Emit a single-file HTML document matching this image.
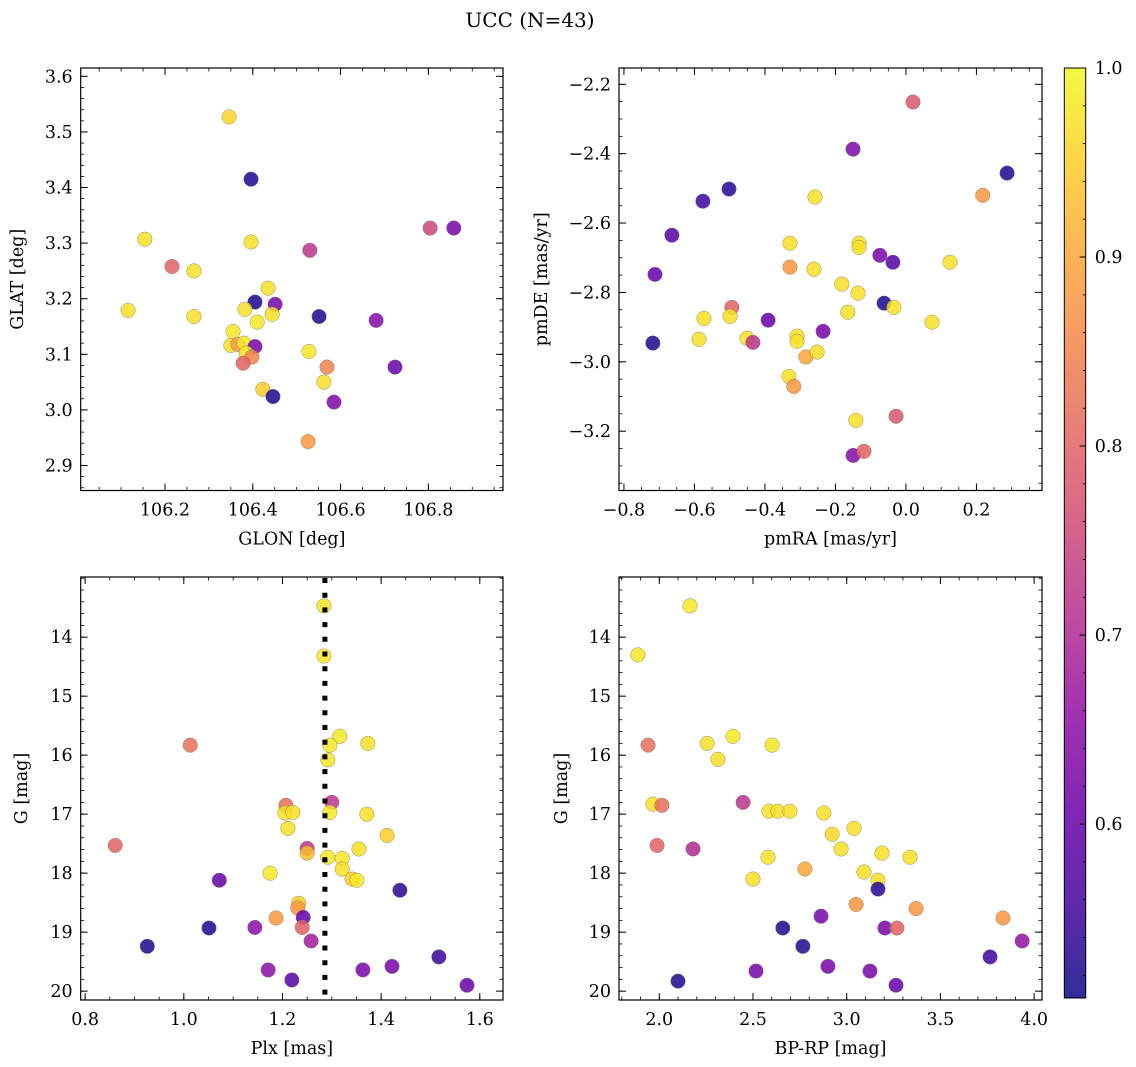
<!DOCTYPE html>
<html><head><meta charset="utf-8">
<style>
html,body{margin:0;padding:0;background:#fff;}
svg{display:block;font-family:"DejaVu Serif","Liberation Serif",serif;}
</style></head>
<body>
<svg id="fig" width="1136" height="1067" viewBox="0 0 1136 1067" xmlns="http://www.w3.org/2000/svg">
<text x="530" y="27" font-size="20" text-anchor="middle">UCC (N=43)</text>
</svg>
<script>
// ---- Panel 1: GLON / GLAT ----
const glonP1 = [106.346,106.396,106.154,106.216,106.266,106.396,106.530,106.804,106.858,106.116,106.266,106.681,106.724,106.526,106.435,106.405,106.451,106.382,106.444,106.410,106.551,106.355,106.350,106.366,106.380,106.405,106.385,106.398,106.378,106.528,106.569,106.562,106.423,106.446,106.585];
const glatP1 = [3.527,3.415,3.307,3.258,3.250,3.302,3.287,3.327,3.327,3.179,3.168,3.161,3.077,2.943,3.219,3.194,3.190,3.181,3.172,3.158,3.168,3.141,3.116,3.118,3.120,3.114,3.102,3.095,3.084,3.105,3.077,3.050,3.037,3.024,3.014];
const probP1 = [0.96,0.52,0.97,0.80,0.97,0.97,0.72,0.75,0.62,0.97,0.97,0.64,0.60,0.88,0.97,0.52,0.62,0.97,0.97,0.98,0.52,0.98,0.97,0.88,0.98,0.62,0.98,0.85,0.80,0.98,0.85,0.97,0.95,0.52,0.63];
// ---- Panel 2: pmRA / pmDE ----
const pmraP2 = [0.020,-0.150,0.287,0.218,-0.502,-0.576,-0.664,-0.258,-0.329,-0.133,-0.133,-0.329,-0.261,-0.074,-0.037,0.125,-0.712,-0.182,-0.136,-0.062,-0.494,-0.573,-0.499,-0.391,-0.034,0.074,-0.165,-0.718,-0.587,-0.451,-0.434,-0.309,-0.309,-0.235,-0.284,-0.252,-0.332,-0.318,-0.142,-0.028,-0.150,-0.119];
const pmdeP2 = [-2.251,-2.387,-2.456,-2.520,-2.502,-2.537,-2.635,-2.525,-2.658,-2.658,-2.670,-2.727,-2.733,-2.693,-2.713,-2.713,-2.748,-2.776,-2.802,-2.831,-2.843,-2.875,-2.869,-2.880,-2.843,-2.886,-2.857,-2.946,-2.935,-2.932,-2.944,-2.926,-2.941,-2.912,-2.986,-2.972,-3.042,-3.071,-3.169,-3.157,-3.270,-3.258];
const probP2 = [0.78,0.63,0.52,0.88,0.53,0.55,0.58,0.97,0.97,0.97,0.97,0.88,0.97,0.62,0.58,0.97,0.60,0.97,0.97,0.52,0.80,0.97,0.97,0.60,0.97,0.97,0.97,0.52,0.97,0.97,0.72,0.97,0.97,0.62,0.90,0.97,0.97,0.88,0.97,0.78,0.64,0.80];
// ---- Panel 3: Plx / G ----
const plxP3 = [1.284,1.284,1.316,1.296,1.373,1.292,1.013,1.300,1.207,1.205,1.221,1.296,1.371,1.211,1.412,1.250,1.250,1.292,1.321,1.355,1.321,1.341,1.351,1.175,1.438,1.233,1.231,1.242,1.187,1.240,1.144,0.861,1.072,1.051,0.926,1.171,1.219,1.258,1.363,1.422,1.517,1.574];
const gP3 = [13.47,14.32,15.68,15.83,15.80,16.08,15.83,16.80,16.85,16.98,16.97,16.97,17.00,17.24,17.36,17.58,17.66,17.73,17.75,17.59,17.93,18.10,18.12,18.00,18.29,18.51,18.59,18.75,18.76,18.92,18.92,17.53,18.12,18.93,19.24,19.64,19.81,19.15,19.64,19.58,19.42,19.90];
const probP3 = [0.98,0.98,0.98,0.98,0.97,0.98,0.82,0.72,0.82,0.97,0.97,0.98,0.97,0.97,0.95,0.72,0.93,0.98,0.98,0.97,0.97,0.95,0.98,0.98,0.53,0.95,0.88,0.60,0.88,0.80,0.65,0.80,0.60,0.52,0.52,0.65,0.58,0.68,0.62,0.62,0.55,0.60];
const plxLine = 1.286;
// ---- Panel 4: BP-RP / G ----
const bprpP4 = [2.164,1.886,1.940,2.602,2.255,2.393,2.313,2.447,1.966,2.014,2.585,2.633,2.697,2.878,1.988,2.180,2.580,2.922,3.039,2.970,3.188,3.338,2.777,2.500,3.092,3.167,3.167,3.050,3.370,3.834,2.863,3.204,3.268,2.659,2.766,2.100,3.936,3.765,2.516,2.900,3.124,3.263];
const gP4 = [13.47,14.30,15.83,15.83,15.80,15.68,16.07,16.80,16.83,16.85,16.95,16.95,16.95,16.98,17.53,17.59,17.73,17.34,17.24,17.59,17.66,17.73,17.93,18.10,17.98,18.12,18.27,18.53,18.60,18.76,18.73,18.93,18.93,18.93,19.24,19.83,19.15,19.42,19.66,19.58,19.66,19.90];
const probP4 = [0.98,0.98,0.82,0.98,0.97,0.98,0.97,0.72,0.97,0.82,0.97,0.97,0.97,0.97,0.80,0.70,0.97,0.96,0.97,0.97,0.97,0.97,0.90,0.97,0.97,0.97,0.53,0.88,0.88,0.88,0.62,0.62,0.80,0.52,0.52,0.52,0.66,0.55,0.62,0.62,0.62,0.60];
// ---- tick labels ----
const p1XTicks = ["106.2","106.4","106.6","106.8"];
const p1YTicks = ["2.9","3.0","3.1","3.2","3.3","3.4","3.5","3.6"];
const p2XTicks = ["−0.8","−0.6","−0.4","−0.2","0.0","0.2"];
const p2YTicks = ["−3.2","−3.0","−2.8","−2.6","−2.4","−2.2"];
const p3XTicks = ["0.8","1.0","1.2","1.4","1.6"];
const gTicks = ["14","15","16","17","18","19","20"];
const p4XTicks = ["2.0","2.5","3.0","3.5","4.0"];
const cbTicks = ["0.6","0.7","0.8","0.9","1.0"];
const cbMin = 0.508, cbMax = 1.0;

const NS = "http://www.w3.org/2000/svg";
const svg = document.getElementById('fig');
function mk(tag, attrs, parent){ const e=document.createElementNS(NS,tag); for(const k in attrs) e.setAttribute(k,attrs[k]); (parent||svg).appendChild(e); return e; }
const stops=[[0,[13,8,135]],[0.1,[65,4,157]],[0.2,[106,0,168]],[0.3,[143,13,164]],[0.4,[177,42,144]],[0.5,[204,71,120]],[0.6,[225,100,98]],[0.7,[242,132,75]],[0.8,[252,166,54]],[0.9,[252,206,37]],[1,[240,249,33]]];
function plasma(t){ t=Math.max(0,Math.min(1,t)); for(let i=1;i<stops.length;i++){ if(t<=stops[i][0]){const a=stops[i-1],b=stops[i];const f=(t-a[0])/(b[0]-a[0]);return 'rgb('+a[1].map((v,j)=>Math.round(v+(b[1][j]-v)*f)).join(',')+')';}} return 'rgb(240,249,33)'; }
function cmap(v){ return plasma((v-cbMin)/(cbMax-cbMin)); }
const FS = 17.5;

function panel(cfg){
  const {name,L,R,T,B,xmin,xmax,ymin,ymax,yinv,xt,xtv,xminor,yt,ytv,yminor,xlabel,ylabel,xs,ys,cs} = cfg;
  const g = mk('g',{});
  
  
  const X = v => L+(v-xmin)/(xmax-xmin)*(R-L);
  const Y = v => yinv ? T+(v-ymin)/(ymax-ymin)*(B-T) : B-(v-ymin)/(ymax-ymin)*(B-T);
  const pg = mk('g',{},g);
  
  
  for(let i=0;i<xs.length;i++){
    const c = mk('circle',{cx:X(xs[i]),cy:Y(ys[i]),r:7.3,fill:cmap(cs[i]),'fill-opacity':0.85,stroke:'#777','stroke-width':0.5,'stroke-opacity':0.8},pg);
    
    
  }
  if(cfg.extra) cfg.extra(g,X,Y);
  const fr = mk('rect',{x:L,y:T,width:R-L,height:B-T,fill:'none',stroke:'#000','stroke-width':1.2},g);
  
  
  xtv.forEach((v,i)=>{ const x=X(v);
    mk('line',{x1:x,x2:x,y1:B,y2:B-7,stroke:'#000','stroke-width':1},g);
    mk('line',{x1:x,x2:x,y1:T,y2:T+7,stroke:'#000','stroke-width':1},g);
    const t=mk('text',{x:x,y:B+25,'font-size':FS,'text-anchor':'middle'},g); t.textContent=xt[i];
    
    
  });
  for(let v=Math.ceil(xmin/xminor)*xminor; v<=xmax; v+=xminor){ const x=X(v);
    mk('line',{x1:x,x2:x,y1:B,y2:B-3.5,stroke:'#000','stroke-width':0.8},g);
    mk('line',{x1:x,x2:x,y1:T,y2:T+3.5,stroke:'#000','stroke-width':0.8},g); }
  ytv.forEach((v,i)=>{ const y=Y(v);
    mk('line',{x1:L,x2:L+7,y1:y,y2:y,stroke:'#000','stroke-width':1},g);
    mk('line',{x1:R,x2:R-7,y1:y,y2:y,stroke:'#000','stroke-width':1},g);
    const t=mk('text',{x:L-8,y:y+6,'font-size':FS,'text-anchor':'end'},g); t.textContent=yt[i];
    
    
  });
  const ylo=Math.min(ymin,ymax), yhi=Math.max(ymin,ymax);
  for(let v=Math.ceil(ylo/yminor-1e-9)*yminor; v<=yhi; v+=yminor){ const y=Y(v);
    mk('line',{x1:L,x2:L+3.5,y1:y,y2:y,stroke:'#000','stroke-width':0.8},g);
    mk('line',{x1:R,x2:R-3.5,y1:y,y2:y,stroke:'#000','stroke-width':0.8},g); }
  const xl=mk('text',{x:(L+R)/2,y:B+54,'font-size':FS,'text-anchor':'middle'},g); xl.textContent=xlabel;
  
  
  const cy=(T+B)/2, cx=cfg.ylx;
  const yl=mk('text',{x:cx,y:cy,'font-size':FS,'text-anchor':'middle',transform:'rotate(-90 '+cx+' '+cy+')'},g); yl.textContent=ylabel;
  
  
}

panel({name:'glon-glat-panel',L:80.7,R:503,T:68,B:490.5,xmin:106.008,xmax:106.970,ymin:2.855,ymax:3.615,yinv:false,
  xt:p1XTicks,xtv:[106.2,106.4,106.6,106.8],xminor:0.05,yt:p1YTicks,ytv:[2.9,3.0,3.1,3.2,3.3,3.4,3.5,3.6],yminor:0.02,
  xlabel:'GLON [deg]',ylabel:'GLAT [deg]',ylx:23,xs:glonP1,ys:glatP1,cs:probP1});
panel({name:'pm-panel',L:619,R:1042,T:68,B:490.5,xmin:-0.814,xmax:0.386,ymin:-3.371,ymax:-2.153,yinv:false,
  xt:p2XTicks,xtv:[-0.8,-0.6,-0.4,-0.2,0,0.2],xminor:0.05,yt:p2YTicks,ytv:[-3.2,-3.0,-2.8,-2.6,-2.4,-2.2],yminor:0.05,
  xlabel:'pmRA [mas/yr]',ylabel:'pmDE [mas/yr]',ylx:547,xs:pmraP2,ys:pmdeP2,cs:probP2});
panel({name:'plx-g-panel',L:80.7,R:503,T:577,B:1000,xmin:0.791,xmax:1.647,ymin:12.98,ymax:20.15,yinv:true,
  xt:p3XTicks,xtv:[0.8,1.0,1.2,1.4,1.6],xminor:0.05,yt:gTicks,ytv:[14,15,16,17,18,19,20],yminor:0.2,
  xlabel:'Plx [mas]',ylabel:'G [mag]',ylx:27,xs:plxP3,ys:gP3,cs:probP3,
  extra:(g,X,Y)=>{ const l=mk('line',{x1:X(plxLine),x2:X(plxLine),y1:578,y2:1000,stroke:'#000','stroke-width':5,'stroke-dasharray':'5 9.7'},g);
    
     }});
panel({name:'cmd-panel',L:619,R:1042,T:577,B:1000,xmin:1.785,xmax:4.042,ymin:12.98,ymax:20.15,yinv:true,
  xt:p4XTicks,xtv:[2.0,2.5,3.0,3.5,4.0],xminor:0.1,yt:gTicks,ytv:[14,15,16,17,18,19,20],yminor:0.2,
  xlabel:'BP-RP [mag]',ylabel:'G [mag]',ylx:567,xs:bprpP4,ys:gP4,cs:probP4});

(function(){
  const L=1064.3,R=1085.7,T=68,B=998;
  const g=mk('g',{});
  
  
  const defs=mk('defs',{},g);
  const lg=mk('linearGradient',{id:'cbg',x1:0,y1:1,x2:0,y2:0},defs);
  for(let i=0;i<=20;i++){ mk('stop',{offset:(i/20),'stop-color':plasma(i/20),'stop-opacity':0.85},lg); }
  mk('rect',{x:L,y:T,width:R-L,height:B-T,fill:'url(#cbg)'},g);
  mk('rect',{x:L,y:T,width:R-L,height:B-T,fill:'none',stroke:'#000','stroke-width':1},g);
  const Y=v=>B-(v-cbMin)/(cbMax-cbMin)*(B-T);
  [0.6,0.7,0.8,0.9,1.0].forEach((v,i)=>{ const y=Y(v);
    mk('line',{x1:R,x2:R-6,y1:y,y2:y,stroke:'#000','stroke-width':1},g);
    const t=mk('text',{x:R+9,y:y+6,'font-size':FS},g); t.textContent=cbTicks[i];
    
    
  });
  for(let v=0.52; v<1.0; v+=0.02){ const y=Y(v); mk('line',{x1:R,x2:R-3,y1:y,y2:y,stroke:'#000','stroke-width':0.8},g); }
})();
</script>
</body></html>
